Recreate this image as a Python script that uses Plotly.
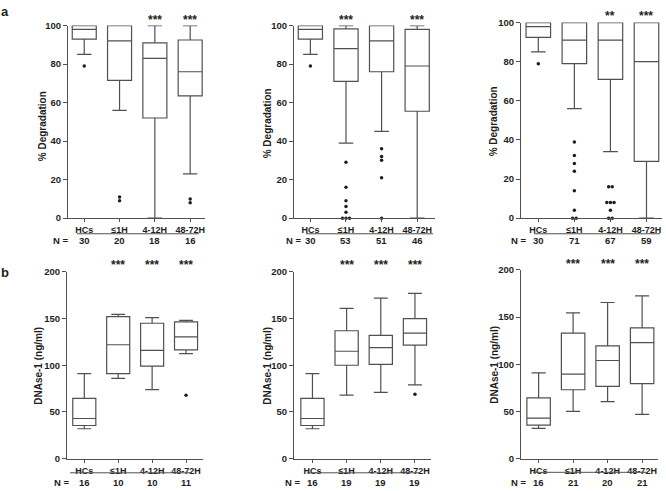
import plotly.graph_objects as go

W, H = 666, 491

CATEGORIES = ["HCs", "≤1H", "4-12H", "48-72H"]

# box stats per group: lower whisker, Q1, median, Q3, upper whisker
DEG1_BOX = [[85, 93, 98, 100, 100], [56, 71.5, 92, 100, 100],
            [0, 52, 83, 91, 100], [23, 63.5, 76, 92.5, 100]]
DEG1_OUT = [[79], [11, 9], [], [10, 8]]
DEG1_N = [30, 20, 18, 16]
DEG1_STARS = ["", "", "***", "***"]

DEG2_BOX = [[85, 93, 98, 100, 100], [39, 71, 88, 98.3, 100],
            [45, 76, 92, 100, 100], [0, 55.5, 79, 98, 100]]
DEG2_OUT = [[79], [29, 16, 9, 6, 3, 0, 0, 0], [36, 32, 30, 21, 0], []]
DEG2_N = [30, 53, 51, 46]
DEG2_STARS = ["", "***", "", "***"]

DEG3_BOX = [[85, 92.5, 98, 100, 100], [56, 79, 91, 100, 100],
            [34, 71, 91, 100, 100], [0, 29, 80, 100, 100]]
DEG3_OUT = [[79], [39, 32, 28, 24, 14, 4, 0, 0], [16, 16, 8, 8, 8, 4, 0, 0], []]
DEG3_N = [30, 71, 67, 59]
DEG3_STARS = ["", "", "**", "***"]

DNA1_BOX = [[32, 35.5, 43, 64.5, 91], [86, 91, 122, 152, 154.5],
            [74, 99, 116, 145, 151], [112.5, 116.5, 130.5, 146.5, 148]]
DNA1_OUT = [[], [], [], [68]]
DNA1_N = [16, 10, 10, 11]
DNA1_STARS = ["", "***", "***", "***"]

DNA2_BOX = [[32, 35.5, 43, 64.5, 91], [68, 100, 115, 137, 161],
            [71, 101, 119, 132, 172], [79, 121.5, 134.5, 150, 177]]
DNA2_OUT = [[], [], [], [69]]
DNA2_N = [16, 19, 19, 19]
DNA2_STARS = ["", "***", "***", "***"]

DNA3_BOX = [[32, 35.5, 43, 64.5, 91], [50, 73, 89.5, 133, 154.5],
            [60.5, 76.5, 104, 119.5, 165.5], [47, 79.5, 123, 138.5, 172.5]]
DNA3_OUT = [[], [], [], []]
DNA3_N = [16, 21, 20, 21]
DNA3_STARS = ["", "***", "***", "***"]

DEG_TICKS = [0, 20, 40, 60, 80, 100]
DNA_TICKS = [0, 50, 100, 150, 200]

FONT = "Liberation Sans, Arial, sans-serif"
INK = "#1e1e1e"
LINE = "#505050"

# panel geometry in pixels: plot left/right/top/bottom, x range, title x/y, N= right edge,
# N row y, underline x0/x1/y, stars y
panels = [
    dict(box=DEG1_BOX, out=DEG1_OUT, n=DEG1_N, stars=DEG1_STARS, ymax=100, yt=DEG_TICKS,
         title="% Degradation", px=(68, 205, 20, 217), xr=(-0.46, 3.42),
         tx=42, ty=123, nx=71, ny=240, ul=(77, 199, 233), sy=14),
    dict(box=DEG2_BOX, out=DEG2_OUT, n=DEG2_N, stars=DEG2_STARS, ymax=100, yt=DEG_TICKS,
         title="% Degradation", px=(294, 435, 20, 217), xr=(-0.46, 3.5),
         tx=267, ty=120, nx=304, ny=240, ul=(306, 433, 233), sy=14),
    dict(box=DEG3_BOX, out=DEG3_OUT, n=DEG3_N, stars=DEG3_STARS, ymax=100, yt=DEG_TICKS,
         title="% Degradation", px=(521, 662, 17, 217), xr=(-0.48, 3.43),
         tx=493, ty=118, nx=529, ny=240, ul=(534, 660, 233), sy=10),
    dict(box=DNA1_BOX, out=DNA1_OUT, n=DNA1_N, stars=DNA1_STARS, ymax=200, yt=DNA_TICKS,
         title="DNAse-1 (ng/ml)", px=(67, 203, 272, 463), xr=(-0.51, 3.5),
         tx=39, ty=368, nx=72, ny=487, ul=(70, 192, 477.5), sy=265),
    dict(box=DNA2_BOX, out=DNA2_OUT, n=DNA2_N, stars=DNA2_STARS, ymax=200, yt=DNA_TICKS,
         title="DNAse-1 (ng/ml)", px=(294, 431, 272, 463), xr=(-0.54, 3.47),
         tx=268, ty=368, nx=303, ny=487, ul=(307, 420, 477.5), sy=265),
    dict(box=DNA3_BOX, out=DNA3_OUT, n=DNA3_N, stars=DNA3_STARS, ymax=200, yt=DNA_TICKS,
         title="DNAse-1 (ng/ml)", px=(521, 658, 270, 463), xr=(-0.51, 3.46),
         tx=495, ty=367, nx=529, ny=487, ul=(533, 648, 477), sy=264),
]


def fx(p):
    return p / W


def fy(p):
    return 1 - p / H


def dodge(values, step=0.1):
    # spread repeated outlier values side by side
    xs = []
    for v in values:
        m = values.count(v)
        k = sum(1 for u in xs if u[1] == v)
        xs.append(((k - (m - 1) / 2) * step, v))
    return [d for d, _ in xs]


def label(text, x, y, xref="paper", size=9, **kw):
    d = dict(text=text, x=x, y=y, xref=xref, yref="paper", showarrow=False,
             xanchor="center", yanchor="middle",
             font=dict(family=FONT, size=size, color=INK, weight="bold"))
    d.update(kw)
    return d


fig = go.Figure()
annotations = []
shapes = []
idx = list(range(len(CATEGORIES)))

for i, p in enumerate(panels, start=1):
    xa = "x" if i == 1 else f"x{i}"
    ya = "y" if i == 1 else f"y{i}"
    stats = list(zip(*p["box"]))
    fig.add_trace(go.Box(
        x=idx, lowerfence=list(stats[0]), q1=list(stats[1]), median=list(stats[2]),
        q3=list(stats[3]), upperfence=list(stats[4]),
        width=0.68, whiskerwidth=0.6, fillcolor="white",
        line=dict(color=LINE, width=1.2), showlegend=False,
        xaxis=xa, yaxis=ya, hoverinfo="skip",
    ))
    ox, oy = [], []
    for j, vals in enumerate(p["out"]):
        for d, v in zip(dodge(vals), vals):
            ox.append(j + d)
            oy.append(v)
    if ox:
        fig.add_trace(go.Scatter(
            x=ox, y=oy, mode="markers", cliponaxis=False,
            marker=dict(color=INK, size=3.5), showlegend=False,
            xaxis=xa, yaxis=ya, hoverinfo="skip",
        ))

    l, r, t, b = p["px"]
    ax = dict(domain=[fx(l), fx(r)], range=list(p["xr"]), tickvals=idx, ticktext=CATEGORIES,
              showline=True, linecolor=LINE, linewidth=1.2, ticks="outside", ticklen=3,
              tickcolor=LINE, showgrid=False, zeroline=False, anchor=ya,
              tickfont=dict(family=FONT, size=9, color=INK, weight="bold"))
    ay = dict(domain=[fy(b), fy(t)], range=[0, p["ymax"]], tickvals=p["yt"],
              showline=True, linecolor=LINE, linewidth=1.2, ticks="outside", ticklen=4,
              tickcolor=LINE, showgrid=False, zeroline=False, anchor=xa,
              tickfont=dict(family=FONT, size=9.5, color=INK, weight="bold"))
    fig.update_layout(**{("xaxis" if i == 1 else f"xaxis{i}"): ax,
                         ("yaxis" if i == 1 else f"yaxis{i}"): ay})

    annotations.append(label(p["title"], fx(p["tx"]), fy(p["ty"]), size=10, textangle=-90))
    annotations.append(label("N =", fx(p["nx"]), fy(p["ny"]), size=9.5, xanchor="right"))
    for j, n in enumerate(p["n"]):
        annotations.append(label(str(n), j, fy(p["ny"]), xref=xa, size=9.5))
    for j, s in enumerate(p["stars"]):
        if s:
            annotations.append(label(s, j, fy(p["sy"]), xref=xa, size=12))
    x0, x1, yl = p["ul"]
    shapes.append(dict(type="line", xref="paper", yref="paper", x0=fx(x0), x1=fx(x1),
                       y0=fy(yl), y1=fy(yl), line=dict(color=LINE, width=1)))

for lab, ly in (("a", 6), ("b", 273)):
    annotations.append(label(lab, fx(5), fy(ly), size=13))

fig.update_layout(
    width=W, height=H, autosize=False,
    margin=dict(l=0, r=0, t=0, b=0),
    paper_bgcolor="white", plot_bgcolor="white",
    annotations=annotations, shapes=shapes,
)

# drop the default page margin so the figure sits at the window's corner
fig.write_html("out.html", config={"displayModeBar": False},
               post_script="document.body.style.margin='0';")
